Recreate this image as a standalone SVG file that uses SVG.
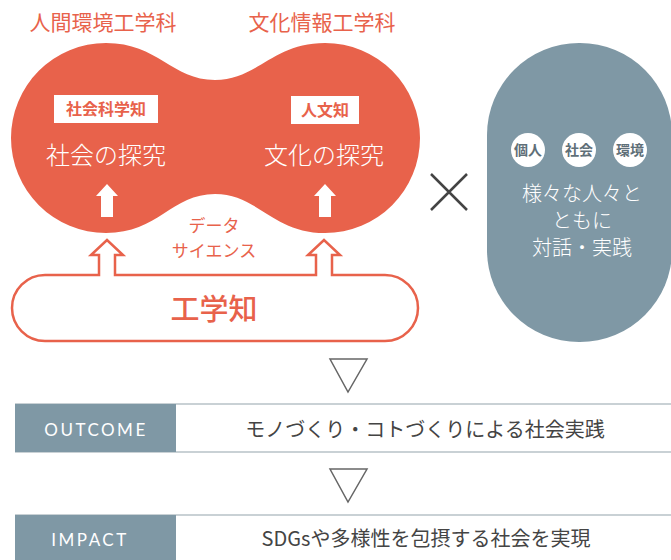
<svg xmlns="http://www.w3.org/2000/svg" width="671" height="560" viewBox="0 0 671 560">
<style>
.jp{font-family:"Noto Sans CJK JP","Noto Sans",sans-serif}
.red{fill:#E8624B}
.title{font-size:21px;fill:#E8624B;font-weight:400}
.tag{font-size:16px;fill:#E8624B;font-weight:700}
.wh{font-size:24px;fill:#fff;font-weight:300}
.ds{font-size:17px;fill:#E8624B;font-weight:400}
.gk{font-size:29px;fill:#E8624B;font-weight:500}
.circ{font-size:14px;fill:#5f6f78;font-weight:700}
.gw{font-size:20px;fill:#fff;font-weight:300}
.lab{font-family:"Lato","Open Sans",sans-serif;font-size:17px;fill:#fff;letter-spacing:2.5px}
.res{font-size:20px;fill:#444;font-weight:400}
.line{stroke:#c9d1d5;stroke-width:2}
.tri{fill:none;stroke:#666;stroke-width:1.5}
</style>
<g id="titles" class="jp">
<text class="title" x="103" y="30" text-anchor="middle">人間環境工学科</text>
<text class="title" x="322" y="30" text-anchor="middle">文化情報工学科</text>
</g>
<g id="blob">
<path class="red" d="M106,43 C158,43 172,80 215,80 C258,80 272,43 325,43 A95,95 0 0 1 325,233 C272,233 258,194 215,194 C172,194 158,233 106,233 A95,95 0 0 1 106,43 Z"/>
<rect x="54" y="95" width="104" height="28" fill="#fff"/>
<text class="jp tag" x="106" y="115" text-anchor="middle">社会科学知</text>
<rect x="291" y="96" width="68" height="28" fill="#fff"/>
<text class="jp tag" x="325" y="116" text-anchor="middle">人文知</text>
<text class="jp wh" x="106" y="164" text-anchor="middle">社会の探究</text>
<text class="jp wh" x="324" y="164" text-anchor="middle">文化の探究</text>
<polygon fill="#fff" points="107,184 118,196 113,196 113,217 101,217 101,196 96,196"/>
<polygon fill="#fff" points="325,184 336,196 331,196 331,217 319,217 319,196 314,196"/>
</g>
<g id="datascience" class="jp">
<text class="ds" x="214" y="232" text-anchor="middle">データ</text>
<text class="ds" x="214" y="257" text-anchor="middle">サイエンス</text>
</g>
<g id="kougakuchi">
<path d="M45,275 L99,275 L99,255 L91,255 L107,240 L123,255 L115,255 L115,275 L316,275 L316,255 L308,255 L324,240 L340,255 L332,255 L332,275 L385,275 A33,33 0 0 1 385,341 L45,341 A33,33 0 0 1 45,275 Z" fill="#fff" stroke="#E8624B" stroke-width="2.5" stroke-linejoin="miter"/>
<text class="jp gk" x="214" y="320" text-anchor="middle">工学知</text>
</g>
<g id="times">
<path d="M431,174 L467,210 M467,174 L431,210" stroke="#444" stroke-width="2.5" fill="none"/>
</g>
<g id="dialogue">
<rect x="487" y="43" width="185" height="299" rx="92" ry="92" fill="#7F98A5"/>
<circle cx="528" cy="150" r="17" fill="#fff"/>
<circle cx="579" cy="150" r="17" fill="#fff"/>
<circle cx="630" cy="150" r="17" fill="#fff"/>
<text class="jp circ" x="528" y="155" text-anchor="middle">個人</text>
<text class="jp circ" x="579" y="155" text-anchor="middle">社会</text>
<text class="jp circ" x="630" y="155" text-anchor="middle">環境</text>
<text class="jp gw" x="582" y="201" text-anchor="middle">様々な人々と</text>
<text class="jp gw" x="582" y="228" text-anchor="middle">ともに</text>
<text class="jp gw" x="582" y="255" text-anchor="middle">対話・実践</text>
</g>
<g id="connectors">
<polygon class="tri" points="330,359 367,359 348,392"/>
<polygon class="tri" points="330,469 367,469 348,502"/>
</g>
<g id="outcome">
<line class="line" x1="15" y1="404" x2="671" y2="404"/>
<line class="line" x1="15" y1="452" x2="671" y2="452"/>
<rect x="15" y="404" width="161" height="48" fill="#7F98A5"/>
<text class="lab" x="96" y="436" text-anchor="middle">OUTCOME</text>
<text class="jp res" x="425" y="437" text-anchor="middle">モノづくり・コトづくりによる社会実践</text>
</g>
<g id="impact">
<line class="line" x1="15" y1="515" x2="671" y2="515"/>
<rect x="15" y="515" width="161" height="45" fill="#7F98A5"/>
<text class="lab" x="90" y="546" text-anchor="middle">IMPACT</text>
<text class="jp res" x="426" y="546" text-anchor="middle">SDGsや多様性を包摂する社会を実現</text>
</g>
</svg>
